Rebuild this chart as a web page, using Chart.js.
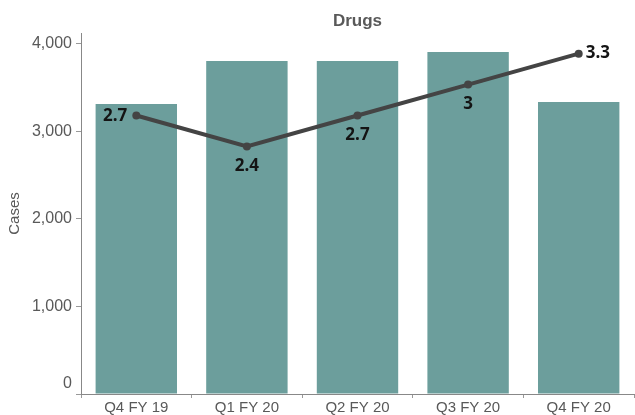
<!DOCTYPE html>
<html>
<head>
<meta charset="utf-8">
<script src="https://cdn.jsdelivr.net/npm/chart.js@4"></script>
<style>
html,body{margin:0;padding:0;background:#fff;overflow:hidden;}
#wrap{width:638px;height:415px;}
</style>
</head>
<body>
<div id="wrap"><canvas id="c" width="638" height="415"></canvas></div>
<script>
const categories = ["Q4 FY 19", "Q1 FY 20", "Q2 FY 20", "Q3 FY 20", "Q4 FY 20"];
const cases = [3314, 3806, 3806, 3909, 3337];
const rate = [2.7, 2.4, 2.7, 3.0, 3.3];
const rateLabels = ["2.7", "2.4", "2.7", "3", "3.3"];
const yTicks = [0, 1000, 2000, 3000, 4000];
const chartTitle = "Drugs";
const yTitle = "Cases";

const labelPos = ["left", "below", "below", "below", "right"];
const tickFont = '16px "Liberation Sans", Arial, sans-serif';

const labelPlugin = {
  id: 'pointLabels',
  afterDatasetsDraw(chart) {
    const ctx = chart.ctx;
    const meta = chart.getDatasetMeta(1);
    ctx.save();
    ctx.font = 'bold 17px "Open Sans", sans-serif';
    ctx.fillStyle = '#141414';
    meta.data.forEach((pt, i) => {
      const p = labelPos[i];
      let x = pt.x, y = pt.y;
      if (p === 'left') { ctx.textAlign = 'right'; ctx.textBaseline = 'middle'; x -= 9; y += 1; }
      else if (p === 'right') { ctx.textAlign = 'left'; ctx.textBaseline = 'middle'; x += 7; }
      else { ctx.textAlign = 'center'; ctx.textBaseline = 'middle'; y += 20; }
      ctx.fillText(rateLabels[i], x, y);
    });
    ctx.restore();
  },
  afterDraw(chart) {
    const ctx = chart.ctx;
    const a = chart.chartArea;
    ctx.save();
    ctx.font = 'bold 17px "Liberation Sans", Arial, sans-serif';
    ctx.fillStyle = '#595959';
    ctx.textAlign = 'center';
    ctx.textBaseline = 'alphabetic';
    ctx.fillText(chartTitle, (a.left + a.right) / 2, 26);
    // zero label sits slightly above its tick in the reference
    const ys = chart.scales.y;
    ctx.font = tickFont;
    ctx.fillStyle = '#595959';
    ctx.textAlign = 'right';
    ctx.textBaseline = 'middle';
    ctx.fillText(String(yTicks[0]), a.left - 9, ys.getPixelForValue(yTicks[0]) - 10);
    ctx.restore();
  }
};

new Chart(document.getElementById('c'), {
  type: 'bar',
  data: {
    labels: categories,
    datasets: [
      {
        type: 'bar',
        data: cases,
        backgroundColor: '#6c9e9c',
        barPercentage: 0.736,
        categoryPercentage: 1,
        yAxisID: 'y',
        order: 2
      },
      {
        type: 'line',
        data: rate,
        borderColor: '#444444',
        backgroundColor: '#444444',
        borderWidth: 4,
        pointRadius: 4,
        pointBackgroundColor: '#444444',
        pointBorderWidth: 0,
        tension: 0,
        yAxisID: 'y2',
        order: 1
      }
    ]
  },
  options: {
    responsive: false,
    animation: false,
    layout: { padding: { top: 33, left: 0, right: 0, bottom: 0 } },
    plugins: { legend: { display: false }, tooltip: { enabled: false }, title: { display: false } },
    scales: {
      x: {
        offset: true,
        grid: { display: true, drawOnChartArea: false, drawTicks: true, tickLength: 4, color: '#999', offset: true },
        border: { display: true, color: '#888', width: 1 },
        ticks: { color: '#595959', font: { family: '"Liberation Sans", Arial, sans-serif', size: 15 }, padding: 1, maxRotation: 0 },
        afterFit(s) { s.height = 21; }
      },
      y: {
        min: 0,
        max: 4125,
        afterBuildTicks(s) { s.ticks = yTicks.map(v => ({ value: v })); },
        grid: { display: true, drawOnChartArea: false, drawTicks: true, tickLength: 5, color: '#999' },
        border: { display: true, color: '#888', width: 1 },
        ticks: { color: '#595959', font: { family: '"Liberation Sans", Arial, sans-serif', size: 16 }, padding: 4,
          callback: v => v === 0 ? '' : v.toLocaleString('en-US') },
        title: { display: true, text: yTitle, color: '#595959', font: { family: '"Liberation Sans", Arial, sans-serif', size: 15 }, padding: { top: 6, bottom: 0 } },
        afterFit(s) { s.width = 81; }
      },
      y2: {
        display: false,
        min: 0,
        max: 3.5
      }
    }
  },
  plugins: [labelPlugin]
});
</script>
</body>
</html>
